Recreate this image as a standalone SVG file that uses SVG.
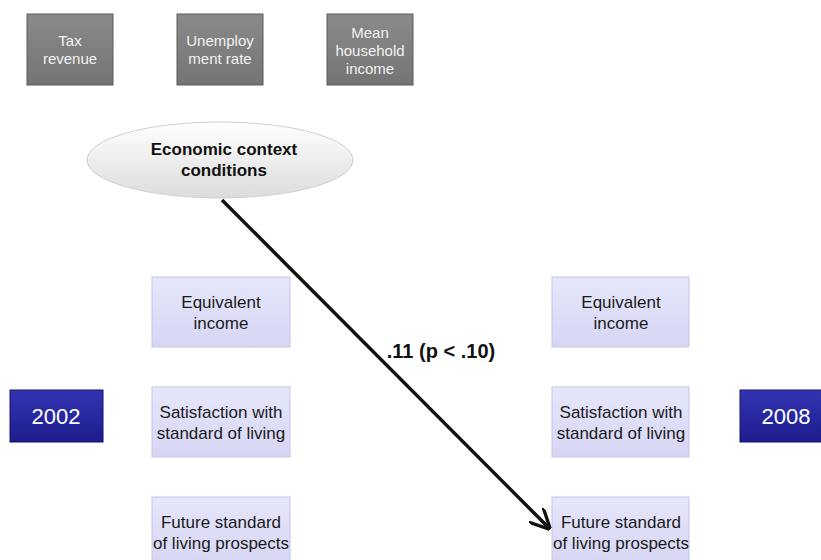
<svg xmlns="http://www.w3.org/2000/svg" width="821" height="560" viewBox="0 0 821 560">
<style>
.g{fill:url(#gg);stroke:#5a5a5a;stroke-width:1}
.gt{font-family:"Liberation Sans",Arial,sans-serif;font-size:15px;fill:#f2f2f2;text-anchor:middle}
.l{fill:url(#lg);stroke:#c4c4e6;stroke-width:1}
.lt{font-family:"Liberation Sans",Arial,sans-serif;font-size:17px;fill:#1a1a1a;text-anchor:middle}
.y{fill:url(#yg);stroke:#14146a;stroke-width:1}
.yt{font-family:"Liberation Sans",Arial,sans-serif;font-size:22px;fill:#ffffff;text-anchor:middle}
.b{font-family:"Liberation Sans",Arial,sans-serif;font-size:17px;font-weight:bold;fill:#111;text-anchor:middle}
</style>
<defs>
<linearGradient id="gg" x1="0" y1="0" x2="0" y2="1"><stop offset="0" stop-color="#8a8a8a"/><stop offset="1" stop-color="#747474"/></linearGradient>
<linearGradient id="lg" x1="0" y1="0" x2="0" y2="1"><stop offset="0" stop-color="#e6e6fb"/><stop offset="1" stop-color="#d6d6f4"/></linearGradient>
<linearGradient id="yg" x1="0" y1="0" x2="0" y2="1"><stop offset="0" stop-color="#3434b4"/><stop offset="1" stop-color="#1c1c8c"/></linearGradient>
<linearGradient id="eg" x1="0" y1="0" x2="0" y2="1"><stop offset="0" stop-color="#ffffff"/><stop offset="1" stop-color="#dcdcdc"/></linearGradient>
<marker id="ah" viewBox="0 0 10 10" refX="9" refY="5" markerWidth="6" markerHeight="6" orient="auto" markerUnits="strokeWidth"><path d="M0,0 L10,5 L0,10" fill="none" stroke="#111" stroke-width="1.6"/></marker>
</defs>
<g id="tax"><rect class="g" x="27" y="14" width="86" height="71"/><text class="gt" x="70" y="46">Tax</text><text class="gt" x="70" y="64">revenue</text></g>
<g id="unemp"><rect class="g" x="177" y="14" width="86" height="71"/><text class="gt" x="220" y="46">Unemploy</text><text class="gt" x="220" y="64">ment rate</text></g>
<g id="mean"><rect class="g" x="327" y="14" width="86" height="71"/><text class="gt" x="370" y="38">Mean</text><text class="gt" x="370" y="56">household</text><text class="gt" x="370" y="74">income</text></g>
<g id="econ"><ellipse cx="220" cy="160" rx="133" ry="38" fill="url(#eg)" stroke="#d0d0d0"/><text class="b" x="224" y="155">Economic context</text><text class="b" x="224" y="176">conditions</text></g>
<g id="l1"><rect class="l" x="152" y="277" width="138" height="70"/><text class="lt" x="221" y="308">Equivalent</text><text class="lt" x="221" y="329">income</text></g>
<g id="l2"><rect class="l" x="152" y="387" width="138" height="70"/><text class="lt" x="221" y="418">Satisfaction with</text><text class="lt" x="221" y="439">standard of living</text></g>
<g id="l3"><rect class="l" x="152" y="497" width="138" height="70"/><text class="lt" x="221" y="528">Future standard</text><text class="lt" x="221" y="549">of living prospects</text></g>
<g id="r1"><rect class="l" x="552" y="277" width="137" height="70"/><text class="lt" x="621" y="308">Equivalent</text><text class="lt" x="621" y="329">income</text></g>
<g id="r2"><rect class="l" x="552" y="387" width="137" height="70"/><text class="lt" x="621" y="418">Satisfaction with</text><text class="lt" x="621" y="439">standard of living</text></g>
<g id="r3"><rect class="l" x="552" y="497" width="137" height="70"/><text class="lt" x="621" y="528">Future standard</text><text class="lt" x="621" y="549">of living prospects</text></g>
<g id="y2002"><rect class="y" x="10" y="390" width="93" height="52"/><text class="yt" x="56" y="424">2002</text></g>
<g id="y2008"><rect class="y" x="740" y="390" width="93" height="52"/><text class="yt" x="786" y="424">2008</text></g>
<g id="connectors"><line x1="222" y1="200" x2="549" y2="528" stroke="#111" stroke-width="3.5" marker-end="url(#ah)"/><text class="b" x="441" y="358" style="font-size:20px">.11 (p &lt; .10)</text></g>
</svg>
